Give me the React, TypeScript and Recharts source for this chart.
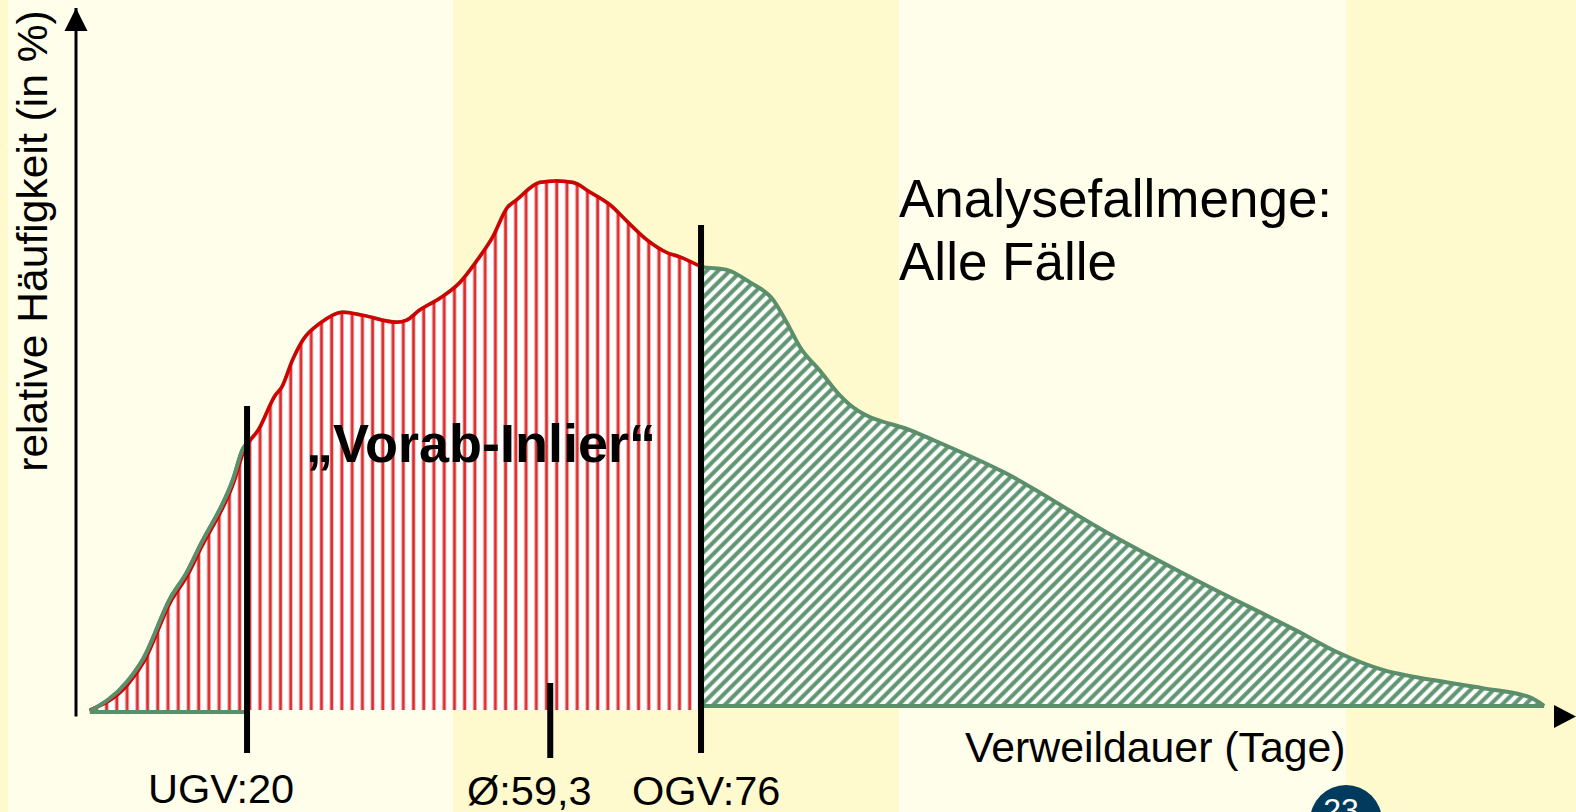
import React from 'react';
import { ComposedChart, Area, Line, XAxis, YAxis, ReferenceLine, ReferenceDot } from 'recharts';

const W = 1576;
const H = 812;

// "Alle Fälle" density curve (Verweildauer in Tagen -> relative Häufigkeit)
const allDays = [0.6, 5.2, 7.2, 10.5, 12.6, 14.2, 18.3, 19.5, 20, 21.4, 23.5, 24.3, 25.6, 26.9, 29, 31.8, 34.3, 38.5, 39.7, 41.3, 43.8, 46.3, 48.4, 50.3, 52.1, 53.3, 56.1, 58.2, 60.2, 62.3, 64.8, 66.9, 69.3, 71.8, 73.4, 76, 79.2, 82.0, 84.9, 86.6, 88.2, 90.7, 93.1, 94.2, 102.4, 113.5, 125.9, 138.3, 149.5, 154.5, 160.1, 166.3, 172.4, 178.2, 180];
const allValues = [0.1, 0.65, 1.08, 2.2, 2.7, 3.19, 4.44, 5.0, 5.1, 5.35, 6.0, 6.15, 6.65, 7.03, 7.34, 7.55, 7.49, 7.36, 7.4, 7.59, 7.81, 8.11, 8.52, 8.95, 9.5, 9.65, 9.97, 10.0, 9.97, 9.79, 9.55, 9.24, 8.9, 8.66, 8.58, 8.4, 8.34, 8.11, 7.78, 7.35, 6.9, 6.45, 6.0, 5.84, 5.31, 4.55, 3.45, 2.45, 1.6, 1.2, 0.87, 0.68, 0.53, 0.36, 0.2];

// "Vorab-Inlier" curve (UGV .. OGV)
const inlierDays = [0.6, 5.3, 7.3, 10.6, 12.7, 14.3, 18.4, 19.6, 20, 21.4, 23.5, 24.3, 25.6, 26.9, 29, 31.8, 34.3, 38.5, 39.7, 41.3, 43.8, 46.3, 48.4, 50.3, 52.1, 53.3, 56.1, 58.2, 60.2, 62.3, 64.8, 66.9, 69.3, 71.8, 73.4, 76];
const inlierValues = [0.12, 0.6, 1.03, 2.15, 2.65, 3.14, 4.39, 4.95, 5.07, 5.35, 6.0, 6.15, 6.65, 7.03, 7.34, 7.55, 7.49, 7.36, 7.4, 7.59, 7.81, 8.11, 8.52, 8.95, 9.5, 9.65, 9.97, 10.0, 9.97, 9.79, 9.55, 9.24, 8.9, 8.66, 8.58, 8.4];

const ugv = 20;
const ogv = 76;
const meanValue = 59.3;
const meanMark = 57.4;

const X_DOMAIN: [number, number] = [-1.1, 183.93];
const Y_DOMAIN: [number, number] = [0, 13.23];
const greenBase = 0.196;
const redBase = 0.121;
const leftBase = 0.084;

const allData = allDays.map((d, i) => ({ d, v: allValues[i] }));
const inlierData = inlierDays.map((d, i) => ({ d, v: inlierValues[i] }));
const leftData = allData.filter((p) => p.d <= ugv);

const GREEN = '#5B8F6B';
const RED = '#D40000';
const FONT = '"Liberation Sans", Arial, Helvetica, sans-serif';

const fmt = (n: number) => String(n).replace('.', ',');

const XArrow = (props: any) => {
  const { cx, cy } = props;
  return <polygon points={`${cx},${cy} ${cx - 22},${cy - 11.5} ${cx - 22},${cy + 11.5}`} fill="#000" />;
};
const YArrow = (props: any) => {
  const { cx, cy } = props;
  return <polygon points={`${cx},${cy} ${cx - 11.5},${cy + 23} ${cx + 11.5},${cy + 23}`} fill="#000" />;
};

export default function App() {
  return (
    <div
      style={{
        position: 'absolute',
        left: 0,
        top: 0,
        width: W,
        height: H,
        overflow: 'hidden',
        background:
          'linear-gradient(to right, #FFFACD 0px, #FFFACD 8px, #FFFEEB 8px, #FFFEEB 453px, #FFFACD 453px, #FFFACD 899px, #FFFEEB 899px, #FFFEEB 1346px, #FFFACD 1346px, #FFFACD 1576px)',
        fontFamily: FONT,
      }}
    >
      <ComposedChart width={W} height={H} margin={{ top: 8, right: 0, bottom: 95.5, left: 0 }}>
        <defs>
          <pattern id="redStripes" patternUnits="userSpaceOnUse" width="10.23" height="20">
            <rect x="0" y="0" width="10.23" height="20" fill="#FFFFFF" />
            <rect x="2.2" y="0" width="4.2" height="20" fill="#F2B0B0" />
            <rect x="3.1" y="0" width="2.4" height="20" fill="#DC2A2A" />
          </pattern>
          <pattern id="greenStripes" patternUnits="userSpaceOnUse" width="8.2" height="20" patternTransform="rotate(45)">
            <rect x="0" y="0" width="8.2" height="20" fill="#FFFFFF" />
            <rect x="0" y="0" width="4.6" height="20" fill="#A9C7B2" />
            <rect x="0.6" y="0" width="3.4" height="20" fill="#5F9570" />
          </pattern>
        </defs>
        <XAxis
          type="number"
          dataKey="d"
          domain={X_DOMAIN}
          allowDataOverflow
          height={0}
          tick={false}
          tickLine={false}
          axisLine={{ stroke: '#000', strokeWidth: 3 }}
        />
        <YAxis
          type="number"
          domain={Y_DOMAIN}
          allowDataOverflow
          width={76}
          tick={false}
          tickLine={false}
          axisLine={{ stroke: '#000', strokeWidth: 3 }}
        />
        <Area
          data={allData}
          dataKey="v"
          type="monotone"
          baseValue={greenBase}
          fill="url(#greenStripes)"
          fillOpacity={1}
          stroke={GREEN}
          strokeWidth={4}
          isAnimationActive={false}
          dot={false}
          activeDot={false}
        />
        <ReferenceLine
          segment={[{ x: ogv, y: greenBase }, { x: allDays[allDays.length - 1], y: greenBase }]}
          stroke={GREEN}
          strokeWidth={4}
          ifOverflow="visible"
        />
        <Area
          data={inlierData}
          dataKey="v"
          type="monotone"
          baseValue={redBase}
          fill="url(#redStripes)"
          fillOpacity={1}
          stroke={RED}
          strokeWidth={3.5}
          isAnimationActive={false}
          dot={false}
          activeDot={false}
        />
        <Line
          data={leftData}
          dataKey="v"
          type="monotone"
          stroke={GREEN}
          strokeWidth={4}
          dot={false}
          activeDot={false}
          isAnimationActive={false}
        />
        <ReferenceLine
          segment={[{ x: allDays[0], y: leftBase }, { x: ugv, y: leftBase }]}
          stroke={GREEN}
          strokeWidth={4}
          ifOverflow="visible"
        />
        <ReferenceLine
          segment={[{ x: ugv, y: -0.68 }, { x: ugv, y: 5.8 }]}
          stroke="#000"
          strokeWidth={6}
          ifOverflow="visible"
        />
        <ReferenceLine
          segment={[{ x: ogv, y: -0.68 }, { x: ogv, y: 9.18 }]}
          stroke="#000"
          strokeWidth={6}
          ifOverflow="visible"
        />
        <ReferenceLine
          segment={[{ x: meanMark, y: -0.775 }, { x: meanMark, y: 0.626 }]}
          stroke="#000"
          strokeWidth={6}
          ifOverflow="visible"
        />
        <ReferenceDot x={X_DOMAIN[1]} y={0} r={1} ifOverflow="visible" shape={XArrow} />
        <ReferenceDot x={X_DOMAIN[0]} y={Y_DOMAIN[1]} r={1} ifOverflow="visible" shape={YArrow} />
      </ComposedChart>
      <svg
        width={W}
        height={H}
        style={{ position: 'absolute', left: 0, top: 0, pointerEvents: 'none' }}
        fontFamily={FONT}
      >
        <text x={47} y={241} fontSize={42.6} textAnchor="middle" transform="rotate(-90, 47, 241)" fill="#000">
          relative Häufigkeit (in %)
        </text>
        <text x={965} y={762} fontSize={42.8} fill="#000">
          Verweildauer (Tage)
        </text>
        <text x={148} y={803} fontSize={41.5} fill="#000">{`UGV:${ugv}`}</text>
        <text x={467} y={805} fontSize={41.5} fill="#000">{`Ø:${fmt(meanValue)}`}</text>
        <text x={632} y={805} fontSize={41.5} fill="#000">{`OGV:${ogv}`}</text>
        <text x={899} y={217} fontSize={53} fill="#000">Analysefallmenge:</text>
        <text x={899} y={280} fontSize={53} fill="#000">Alle Fälle</text>
        <text x={306} y={462} fontSize={54} fontWeight="bold" fill="#000">„Vorab-Inlier“</text>
        <circle cx={1346} cy={821} r={36} fill="#003B5E" />
        <text x={1341} y={821} fontSize={32} textAnchor="middle" fill="#FFFFFF">23</text>
      </svg>
    </div>
  );
}
